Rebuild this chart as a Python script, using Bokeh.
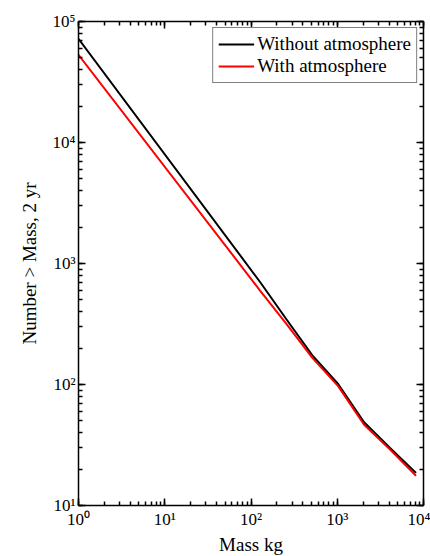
from bokeh.plotting import figure
from bokeh.models import LogAxis, LogTicker, CustomJSTickFormatter, Range1d
from bokeh.embed import file_html
from bokeh.resources import INLINE

# Data
mass_kg = [1, 128, 256, 512, 1024, 2048, 4096, 8192]
n_without_atm = [72000, 700, 348, 175, 101, 48.8, 29.9, 18.6]
n_with_atm = [53000, 595, 319, 167, 97, 46.5, 29.0, 17.6]

x_label = "Mass kg"
y_label = "Number > Mass, 2 yr"
series_labels = ["Without atmosphere", "With atmosphere"]

FONT = "Liberation Serif"

sup_js = """
const sup = {"0":"\u2070","1":"\u00b9","2":"\u00b2","3":"\u00b3","4":"\u2074",
             "5":"\u2075","6":"\u2076","7":"\u2077","8":"\u2078","9":"\u2079","-":"\u207b"};
const e = Math.round(Math.log10(tick));
return "10" + String(e).split("").map(c => sup[c]).join("");
"""

p = figure(
    x_axis_type="log", y_axis_type="log",
    x_range=Range1d(1, 1e4), y_range=Range1d(10, 1e5),
    frame_width=345, frame_height=484,
    min_border_left=78, min_border_right=7, min_border_top=21, min_border_bottom=50,
    output_backend="svg", toolbar_location=None,
)
p.grid.visible = False
p.outline_line_color = None
p.background_fill_color = "white"
p.border_fill_color = "white"

p.line(mass_kg, n_without_atm, line_color="black", line_width=2, legend_label=series_labels[0])
p.line(mass_kg, n_with_atm, line_color="#ff0000", line_width=2, legend_label=series_labels[1])

def style_axis(ax, labels=True):
    ax.ticker = LogTicker(num_minor_ticks=10)
    ax.axis_line_color = "black"
    ax.axis_line_width = 1.5
    ax.major_tick_in = 7
    ax.major_tick_out = 0
    ax.minor_tick_in = 4
    ax.minor_tick_out = 0
    ax.major_tick_line_color = "black"
    ax.minor_tick_line_color = "black"
    ax.major_tick_line_width = 1.5
    ax.minor_tick_line_width = 1.5
    if labels:
        ax.formatter = CustomJSTickFormatter(code=sup_js)
        ax.major_label_text_font = FONT
        ax.major_label_text_font_size = "17px"
        ax.major_label_text_color = "black"
        ax.axis_label_text_font = FONT
        ax.axis_label_text_font_size = "19px"
        ax.axis_label_text_font_style = "normal"
        ax.axis_label_text_color = "black"
    else:
        ax.formatter = CustomJSTickFormatter(code='return "";')
        ax.major_label_standoff = 0

style_axis(p.xaxis[0])
style_axis(p.yaxis[0])
p.xaxis[0].axis_label = x_label
p.yaxis[0].axis_label = y_label
p.xaxis[0].major_label_standoff = 4
p.xaxis[0].axis_label_standoff = 2
p.yaxis[0].major_label_standoff = 3
p.yaxis[0].axis_label_standoff = 10

top_ax = LogAxis()
right_ax = LogAxis()
style_axis(top_ax, labels=False)
style_axis(right_ax, labels=False)
p.add_layout(top_ax, "above")
p.add_layout(right_ax, "right")

lg = p.legend[0]
lg.location = "top_right"
lg.margin = 6
lg.padding = 5
lg.spacing = 0
lg.glyph_width = 36
lg.glyph_height = 20
lg.label_height = 20
lg.label_standoff = 3
lg.label_text_font = FONT
lg.label_text_font_size = "19px"
lg.label_text_color = "black"
lg.border_line_color = "black"
lg.border_line_width = 1
lg.background_fill_color = "white"
lg.background_fill_alpha = 1

open("out.html", "w").write(file_html(p, INLINE))
